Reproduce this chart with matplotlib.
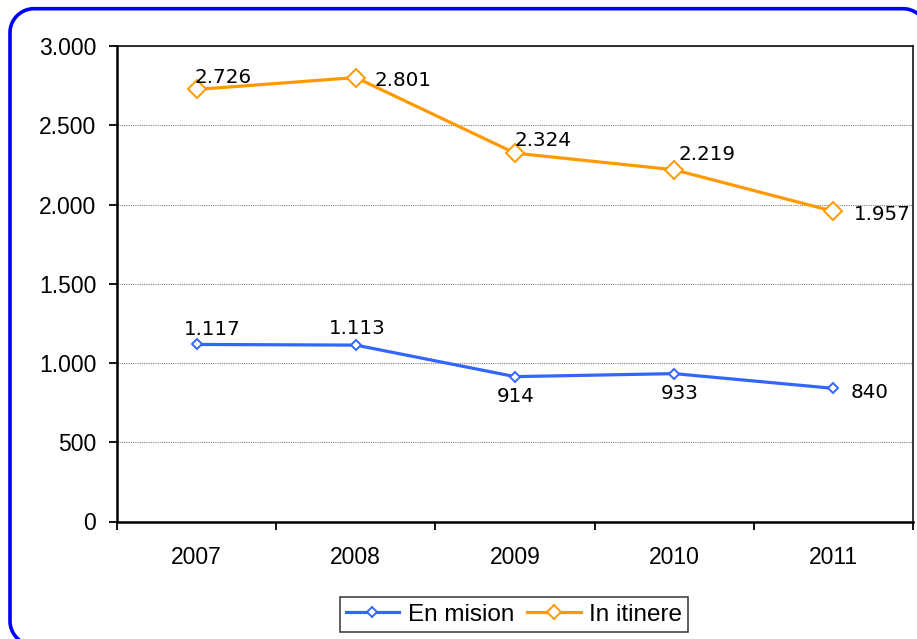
import matplotlib
matplotlib.use("Agg")
import numpy as np
import matplotlib.pyplot as plt
from matplotlib.lines import Line2D

# Data
years = ["2007", "2008", "2009", "2010", "2011"]
en_mision = [1117, 1113, 914, 933, 840]
in_itinere = [2726, 2801, 2324, 2219, 1957]
series_names = ["En mision", "In itinere"]
y_ticks = [0, 500, 1000, 1500, 2000, 2500, 3000]

# Label offsets in pixels (dx, dy of the digits' centre from the point)
mision_offsets = [(16, 17, "center"), (1, 18, "center"), (1, -18, "center"),
                  (5, -18, "center"), (17, -2, "left")]
itinere_offsets = [(-2, 14, "left"), (19, -1, "left"), (0, 14, "left"),
                   (4, 17, "left"), (20, -1, "left")]

BLUE = "#3366FF"
ORANGE = "#FF9900"


def fmt(v):
    return f"{v:,}".replace(",", ".")


W, H = 917, 639
fig = plt.figure(figsize=(W / 100, H / 100), dpi=100)
fig.patch.set_facecolor("white")

# background layer in pixel units (y downwards) for the rounded blue frame
bg = fig.add_axes([0, 0, 1, 1], zorder=0)
bg.set_xlim(0, W)
bg.set_ylim(H, 0)
bg.axis("off")


def arc(cx, cy, r, a0, a1, n=40):
    t = np.radians(np.linspace(a0, a1, n))
    return cx + r * np.cos(t), cy + r * np.sin(t)


left, top, right, bottom, rad = 10.0, 8.7, 927.0, 645.0, 24.0
pieces = [
    arc(left + rad, bottom - rad, rad, 90, 180),
    arc(left + rad, top + rad, rad, 180, 270),
    arc(right - rad, top + rad, rad, 270, 360),
]
fx = np.concatenate([[400.0]] + [p[0] for p in pieces] + [[right]])
fy = np.concatenate([[bottom]] + [p[1] for p in pieces] + [[700.0]])
bg.plot(fx, fy, color="#0000FF", linewidth=2.6, solid_joinstyle="round",
        solid_capstyle="butt", clip_on=False)

ax = fig.add_axes([117 / W, 1 - 521.5 / H, (913 - 117) / W, (521.5 - 46) / H],
                  zorder=1)
ax.patch.set_alpha(0)

x = list(range(len(years)))
ax.plot(x, en_mision, color=BLUE, linewidth=2.3, marker="D", markersize=5.2,
        markerfacecolor="white", markeredgecolor=BLUE, markeredgewidth=1.4,
        zorder=3)
ax.plot(x, in_itinere, color=ORANGE, linewidth=2.3, marker="D", markersize=9.0,
        markerfacecolor="white", markeredgecolor=ORANGE, markeredgewidth=1.4,
        zorder=3)

label_font = dict(family="DejaVu Sans", size=14.3, color="black")
for xi, v, (dx, dy, ha) in zip(x, en_mision, mision_offsets):
    ax.annotate(fmt(v), (xi, v), xytext=(dx, dy - 7.3), textcoords="offset pixels",
                ha=ha, va="baseline", zorder=4, **label_font)
for xi, v, (dx, dy, ha) in zip(x, in_itinere, itinere_offsets):
    ax.annotate(fmt(v), (xi, v), xytext=(dx, dy - 7.3), textcoords="offset pixels",
                ha=ha, va="baseline", zorder=4, **label_font)

ax.set_xlim(-0.5, len(years) - 0.5)
ax.set_ylim(0, 3000)

ax.set_yticks(y_ticks)
ax.set_yticklabels([fmt(t) for t in y_ticks], family="Liberation Sans", fontsize=16.5)
ax.set_xticks(x)
ax.set_xticklabels(years, family="Liberation Sans", fontsize=16.5)
ax.set_xticks([i - 0.5 for i in range(len(years) + 1)], minor=True)

ax.tick_params(axis="x", which="major", length=0, pad=18)
ax.tick_params(axis="x", which="minor", length=5.5, width=1.3, direction="out")
ax.tick_params(axis="y", which="major", length=6, width=1.3, direction="out", pad=9)

ax.grid(axis="y", which="major", linestyle=(0, (1, 1)), linewidth=0.8,
        color="#808080", zorder=0)
ax.set_axisbelow(True)

for side in ("left", "bottom"):
    ax.spines[side].set_linewidth(1.8)
    ax.spines[side].set_color("black")
for side in ("top", "right"):
    ax.spines[side].set_linewidth(1.1)
    ax.spines[side].set_color("black")

handles = [
    Line2D([], [], color=BLUE, linewidth=2.3, marker="D", markersize=5.2,
           markerfacecolor="white", markeredgecolor=BLUE, markeredgewidth=1.4),
    Line2D([], [], color=ORANGE, linewidth=2.3, marker="D", markersize=7.5,
           markerfacecolor="white", markeredgecolor=ORANGE, markeredgewidth=1.4),
]
leg = fig.legend(handles, series_names, loc="center",
                 bbox_to_anchor=(514 / W, 1 - 614.5 / H), ncol=2,
                 prop=dict(family="Liberation Sans", size=17.5),
                 frameon=True, fancybox=False, edgecolor="black",
                 handlelength=2.2, handletextpad=0.35, columnspacing=0.55,
                 borderpad=0.25, borderaxespad=0)
leg.get_frame().set_linewidth(1.1)
leg.set_zorder(5)

fig.savefig("out.png", dpi=100, facecolor="white")
